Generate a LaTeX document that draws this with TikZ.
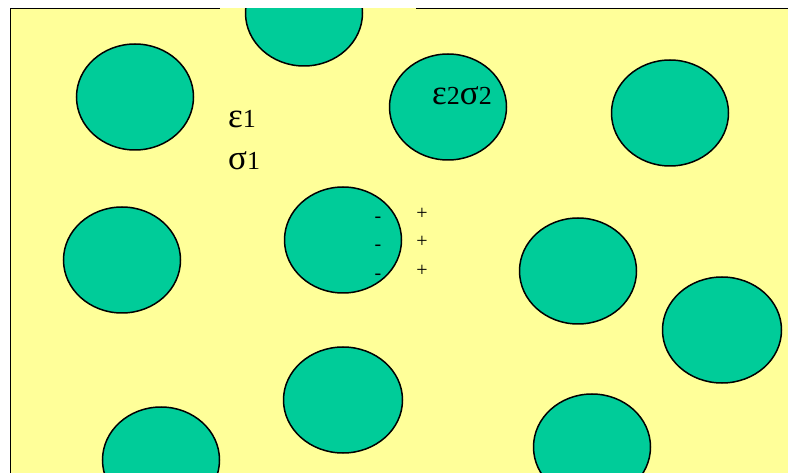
\documentclass[tikz,border=0pt]{standalone}
\usepackage{fontspec}
\setmainfont{Liberation Serif}
\usetikzlibrary{shapes.geometric}
\definecolor{bgyellow}{HTML}{FFFF99}
\definecolor{grain}{HTML}{00CC99}
\tikzset{
  grainshape/.style={ellipse, draw=black, fill=grain, line width=1.5pt, inner sep=0pt, minimum width=117pt, minimum height=106pt},
  greek/.style={anchor=base west, inner sep=0pt, font=\fontsize{35}{37}\selectfont},
  sign/.style={anchor=center, inner sep=0pt, font=\fontsize{20}{22}\selectfont}
}
\newcommand{\smalldig}[1]{{\fontsize{26}{28}\selectfont #1}}
\begin{document}
\begin{tikzpicture}[x=1pt,y=-1pt]
\useasboundingbox (0,0) rectangle (788,473);
\fill[bgyellow] (10.5,8.5) rectangle (790,475);
\begin{scope}
\clip (10.5,8.5) rectangle (790,475);
\node[grainshape] (c1) at (304,13) {};
\node[grainshape] (c2) at (135,97) {};
\node[grainshape] (c3) at (448,107) {};
\node[grainshape] (c4) at (670,113) {};
\node[grainshape] (c5) at (122,260) {};
\node[grainshape] (c6) at (343,240) {};
\node[grainshape] (c7) at (578,271) {};
\node[grainshape, minimum width=119pt] (c8) at (722,330) {};
\node[grainshape, minimum width=119pt] (c9) at (343,400) {};
\node[grainshape] (c10) at (161,460) {};
\node[grainshape] (c11) at (592,447) {};
\end{scope}
\draw[line width=1.5pt] (10.5,473) -- (10.5,8.5) -- (220,8.5);
\draw[line width=1.5pt] (416,8.5) -- (788,8.5);
\node[greek] (e1) at (228,128) {ε\smalldig{1}};
\node[greek] (s1) at (228,170) {σ\smalldig{1}};
\node[greek] (es2) at (432,105) {ε\smalldig{2}σ\smalldig{2}};
\node[sign] (m1) at (378,220) {-};
\node[sign] (m2) at (378,248) {-};
\node[sign] (m3) at (378,277) {-};
\node[sign] (p1) at (422,214) {+};
\node[sign] (p2) at (422,242) {+};
\node[sign] (p3) at (422,271) {+};
\end{tikzpicture}
\end{document}
